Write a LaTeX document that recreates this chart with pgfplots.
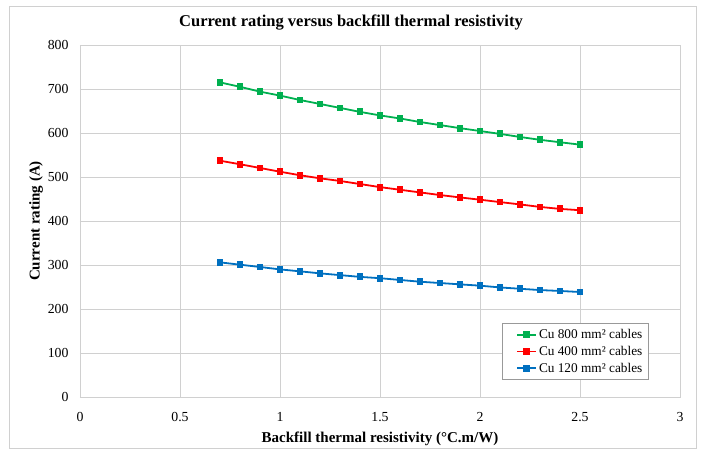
\documentclass[border=0pt]{standalone}
\usepackage{pgfplots}
\pgfplotsset{compat=1.18}
\usepackage{fontspec}
\setmainfont{Liberation Serif}
\definecolor{cgreen}{HTML}{00B050}
\definecolor{cred}{HTML}{FF0000}
\definecolor{cblue}{HTML}{0070C0}
\definecolor{cgrid}{HTML}{D0D0D0}
\begin{document}
\begin{tikzpicture}
\path[use as bounding box] (-80pt,-57pt) rectangle (622pt,397pt);
\draw[cgrid,line width=0.8pt] (-71pt,-51pt) rectangle (616pt,391pt);
\begin{axis}[
  at={(0pt,0pt)}, anchor=south west,
  scale only axis, width=600pt, height=352pt,
  xmin=0, xmax=3, ymin=0, ymax=800,
  xtick={0,0.5,...,3}, ytick={0,100,...,800},
  grid=major, major grid style={cgrid, line width=0.7pt},
  axis line style={cgrid, line width=0.8pt},
  tick style={draw=none},
  /pgf/number format/assume math mode=true,
  ticklabel style={font=\fontsize{13.8}{15}\selectfont},
  xticklabel style={yshift=-12pt},
  yticklabel style={xshift=-8pt},
  title={\textbf{Current rating versus backfill thermal resistivity}},
  title style={font=\fontsize{16.5}{19}\selectfont, at={(0.5,1)}, xshift=-29pt, yshift=5pt},
  xlabel={\textbf{Backfill thermal resistivity (\textdegree C.m/W)}},
  ylabel={\textbf{Current rating (A)}},
  label style={font=\fontsize{15}{17}\selectfont},
  xlabel style={yshift=-3pt},
  ylabel style={yshift=-2pt},
  legend style={at={(0.703,0.21)}, anchor=north west, draw=gray!80, line width=0.8pt,
    font=\fontsize{13.3}{15}\selectfont, row sep=2pt, inner xsep=4pt, inner ysep=4pt,
    cells={anchor=west}},
  legend image code/.code={\path (0pt,0pt); \draw[#1] (10pt,0pt) -- (29pt,0pt); \draw[#1,mark repeat=2,mark phase=2] plot coordinates {(10pt,0pt) (19.5pt,0pt) (29pt,0pt)};},
  every axis plot/.append style={line width=1.8pt, mark=square*, mark size=2.5pt},
]
\addplot[color=cgreen] coordinates {
(0.7,715) (0.8,705) (0.9,694) (1.0,685) (1.1,675) (1.2,666) (1.3,657) (1.4,648) (1.5,640) (1.6,633)
(1.7,625) (1.8,618) (1.9,611) (2.0,604.5) (2.1,598) (2.2,591) (2.3,584.5) (2.4,579) (2.5,573.5)};
\addlegendentry{Cu 800 mm² cables}
\addplot[color=cred] coordinates {
(0.7,537) (0.8,529) (0.9,520.5) (1.0,512) (1.1,504) (1.2,497) (1.3,491) (1.4,484) (1.5,477) (1.6,471)
(1.7,465) (1.8,459) (1.9,453.6) (2.0,448.4) (2.1,443) (2.2,437.7) (2.3,432) (2.4,427.5) (2.5,424.5)};
\addlegendentry{Cu 400 mm² cables}
\addplot[color=cblue] coordinates {
(0.7,306) (0.8,300.7) (0.9,295.5) (1.0,290) (1.1,285.6) (1.2,281) (1.3,277) (1.4,273) (1.5,270) (1.6,266)
(1.7,262) (1.8,259) (1.9,256) (2.0,253) (2.1,249) (2.2,246) (2.3,243) (2.4,241) (2.5,238.6)};
\addlegendentry{Cu 120 mm² cables}
\end{axis}
\end{tikzpicture}
\end{document}
